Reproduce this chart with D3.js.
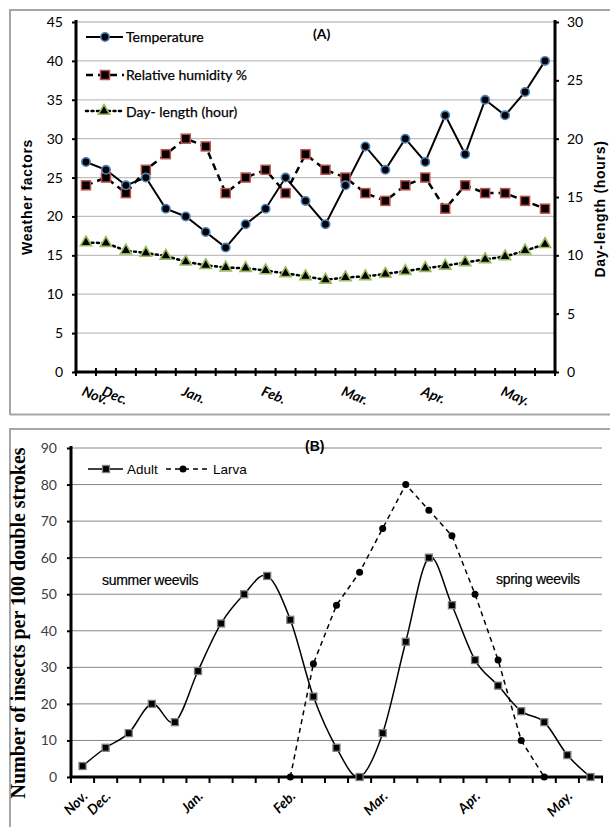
<!DOCTYPE html>
<html>
<head>
<meta charset="utf-8">
<script src="https://cdn.jsdelivr.net/npm/d3@7"></script>
<style>
  html, body { margin: 0; padding: 0; background: #fff; }
  svg { display: block; }
</style>
</head>
<body>
<svg id="chart" width="610" height="827"></svg>
<script>
// ---------- Data (A) ----------
const topMonths = ["Nov.","Dec.","","","","Jan.","","","","Feb.","","","","Mar.","","","","Apr.","","","","May.","",""];
const temperature = [27,26,24,25,21,20,18,16,19,21,25,22,19,24,29,26,30,27,33,28,35,33,36,40];
const humidity = [24,25,23,26,28,30,29,23,25,26,23,28,26,25,23,22,24,25,21,24,23,23,22,21];
const dayLength = [11.1,11.05,10.4,10.2,9.95,9.45,9.15,8.95,8.9,8.7,8.45,8.2,7.9,8.1,8.2,8.4,8.65,8.9,9.1,9.4,9.65,9.9,10.4,10.95];
const leftTicksA = [0,5,10,15,20,25,30,35,40,45];
const rightTicksA = [0,5,10,15,20,25,30];

// ---------- Data (B) ----------
const bottomMonths = ["Nov.","Dec.","","","","Jan.","","","","Feb.","","","","Mar.","","","","Apr.","","","","May.",""];
const adult = [3,8,12,20,15,29,42,50,55,43,22,8,0,12,37,60,47,32,25,18,15,6,0];
const larva = [null,null,null,null,null,null,null,null,null,0,31,47,56,68,80,73,66,50,32,10,0,null,null];
const ticksB = [0,10,20,30,40,50,60,70,80,90];

const svg = d3.select("#chart");

// ---------- Panel frames ----------
svg.append("path").attr("d","M10,415 V10 H610").attr("fill","none").attr("stroke","#a6a6a6").attr("stroke-width",2);
svg.append("line").attr("x1",10).attr("x2",610).attr("y1",414.5).attr("y2",414.5).attr("stroke","#a6a6a6").attr("stroke-width",2);
svg.append("path").attr("d","M10,827 V429 H610").attr("fill","none").attr("stroke","#a6a6a6").attr("stroke-width",2);

// =============== Chart A ===============
const A = {l:76, r:555, t:22, b:372};
const xA = d3.scaleBand().domain(d3.range(topMonths.length)).range([A.l, A.r]);
const cxA = i => xA(i) + xA.bandwidth()/2;
const yL = d3.scaleLinear().domain([0,45]).range([A.b, A.t]);
const yR = d3.scaleLinear().domain([0,30]).range([A.b, A.t]);

const gA = svg.append("g");
gA.selectAll(".gridA").data(leftTicksA.filter(d=>d>0)).enter().append("line")
  .attr("x1",A.l).attr("x2",A.r).attr("y1",d=>yL(d)).attr("y2",d=>yL(d))
  .attr("stroke","#bfbfbf").attr("stroke-width",1.3);

const leftAxisA = d3.axisLeft(yL).tickValues(leftTicksA).tickSize(4).tickPadding(9);
const lax = gA.append("g").attr("transform",`translate(${A.l},0)`).call(leftAxisA);
lax.select(".domain").attr("stroke","#000").attr("stroke-width",3).attr("d",`M0,${A.t-2}V${A.b}`);
lax.selectAll(".tick line").attr("stroke","#000").attr("stroke-width",2);
lax.selectAll(".tick text").attr("font-family","Lato, 'Open Sans', sans-serif").attr("font-size",14).attr("fill","#000");

const rightAxisA = d3.axisRight(yR).tickValues(rightTicksA).tickSize(4).tickPadding(8);
const rax = gA.append("g").attr("transform",`translate(${A.r},0)`).call(rightAxisA);
rax.select(".domain").attr("stroke","#000").attr("stroke-width",3).attr("d",`M0,${A.t-2}V${A.b}`);
rax.selectAll(".tick line").attr("stroke","#000").attr("stroke-width",2);
rax.selectAll(".tick text").attr("font-family","Lato, 'Open Sans', sans-serif").attr("font-size",14).attr("fill","#000");

gA.append("line").attr("x1",A.l-1.5).attr("x2",A.r+1.5).attr("y1",A.b).attr("y2",A.b).attr("stroke","#000").attr("stroke-width",3);
const tickPosA = d3.range(topMonths.length).map(i=>xA(i)).concat([A.r]);
gA.selectAll(".xtA").data(tickPosA).enter().append("line")
  .attr("x1",d=>d).attr("x2",d=>d).attr("y1",A.b-4).attr("y2",A.b+4)
  .attr("stroke","#000").attr("stroke-width",2);
gA.selectAll(".xlA").data(topMonths).enter().append("text")
  .attr("transform",(d,i)=>`translate(${cxA(i)-5},${A.b+23}) rotate(22)`)
  .attr("font-family","Lato, 'Open Sans', sans-serif").attr("font-size",14)
  .attr("font-weight","bold").attr("font-style","italic").attr("fill","#000")
  .text(d=>d);

const lineL = d3.line().x((d,i)=>cxA(i)).y(d=>yL(d));
const lineR = d3.line().x((d,i)=>cxA(i)).y(d=>yR(d));
gA.append("path").attr("d",lineR(dayLength)).attr("fill","none").attr("stroke","#000")
  .attr("stroke-width",2.5).attr("stroke-dasharray","2,3.5").attr("stroke-linecap","round");
gA.append("path").attr("d",lineL(humidity)).attr("fill","none").attr("stroke","#000")
  .attr("stroke-width",2.5).attr("stroke-dasharray","7,5");
gA.append("path").attr("d",lineL(temperature)).attr("fill","none").attr("stroke","#000")
  .attr("stroke-width",2);

const tri = d3.symbol().type(d3.symbolTriangle).size(55);
gA.selectAll(".dl").data(dayLength).enter().append("path")
  .attr("d",tri).attr("transform",(d,i)=>`translate(${cxA(i)},${yR(d)})`)
  .attr("fill","#000").attr("stroke","#9bbb59").attr("stroke-width",1.6);
gA.selectAll(".hu").data(humidity).enter().append("rect")
  .attr("x",(d,i)=>cxA(i)-4.5).attr("y",d=>yL(d)-4.5).attr("width",9).attr("height",9)
  .attr("fill","#000").attr("stroke","#c0504d").attr("stroke-width",1.5);
gA.selectAll(".te").data(temperature).enter().append("circle")
  .attr("cx",(d,i)=>cxA(i)).attr("cy",d=>yL(d)).attr("r",4.2)
  .attr("fill","#000").attr("stroke","#4f81bd").attr("stroke-width",1.6);

const legA = gA.append("g");
const legFont = "Lato, 'Open Sans', sans-serif";
legA.append("line").attr("x1",86).attr("x2",123).attr("y1",37).attr("y2",37).attr("stroke","#000").attr("stroke-width",2);
legA.append("circle").attr("cx",105).attr("cy",37).attr("r",4.2).attr("fill","#000").attr("stroke","#4f81bd").attr("stroke-width",1.6);
legA.append("text").attr("x",126).attr("y",42).attr("font-family",legFont).attr("font-size",14).attr("stroke","#000").attr("stroke-width",0.25).text("Temperature");
legA.append("line").attr("x1",86).attr("x2",124).attr("y1",75).attr("y2",75).attr("stroke","#000").attr("stroke-width",2.5).attr("stroke-dasharray","7,5");
legA.append("rect").attr("x",100.5).attr("y",70.5).attr("width",9).attr("height",9).attr("fill","#000").attr("stroke","#c0504d").attr("stroke-width",1.5);
legA.append("text").attr("x",126).attr("y",80).attr("font-family",legFont).attr("font-size",14).attr("stroke","#000").attr("stroke-width",0.25).text("Relative humidity %");
legA.append("line").attr("x1",86).attr("x2",124).attr("y1",111).attr("y2",111).attr("stroke","#000").attr("stroke-width",2.5).attr("stroke-dasharray","2,3.5").attr("stroke-linecap","round");
legA.append("path").attr("d",tri).attr("transform","translate(104,111)").attr("fill","#000").attr("stroke","#9bbb59").attr("stroke-width",1.6);
legA.append("text").attr("x",126).attr("y",117).attr("font-family",legFont).attr("font-size",14).attr("stroke","#000").attr("stroke-width",0.25).text("Day- length (hour)");

gA.append("text").attr("x",313).attr("y",39).attr("font-family",legFont).attr("font-size",14).attr("font-weight","bold").text("(A)");

gA.append("text").attr("transform",`translate(32,${(A.t+A.b)/2}) rotate(-90)`)
  .attr("text-anchor","middle").attr("font-family","'Liberation Sans', Arial, sans-serif")
  .attr("font-size",14).attr("font-weight","bold").attr("letter-spacing",0.7).text("Weather factors");
gA.append("text").attr("transform",`translate(605,209) rotate(-90)`)
  .attr("text-anchor","middle").attr("font-family","'Liberation Sans', Arial, sans-serif")
  .attr("font-size",14).attr("font-weight","bold").attr("letter-spacing",0.7).text("Day-length (hours)");

// =============== Chart B ===============
const B = {l:71, r:602, t:448, b:777};
const xB = d3.scaleBand().domain(d3.range(bottomMonths.length)).range([B.l, B.r]);
const cxB = i => xB(i) + xB.bandwidth()/2;
const yB = d3.scaleLinear().domain([0,90]).range([B.b, B.t]);
const gB = svg.append("g");

gB.selectAll(".gridB").data(ticksB.filter(d=>d>0)).enter().append("line")
  .attr("x1",B.l).attr("x2",B.r).attr("y1",d=>yB(d)).attr("y2",d=>yB(d))
  .attr("stroke","#868686").attr("stroke-width",1);

const leftAxisB = d3.axisLeft(yB).tickValues(ticksB).tickSize(4).tickPadding(10);
const lbx = gB.append("g").attr("transform",`translate(${B.l},0)`).call(leftAxisB);
lbx.select(".domain").attr("stroke","#000").attr("stroke-width",3).attr("d",`M0,${B.t-2}V${B.b}`);
lbx.selectAll(".tick line").attr("stroke","#000").attr("stroke-width",2);
lbx.selectAll(".tick text").attr("font-family","Lato, 'Open Sans', sans-serif").attr("font-size",14).attr("fill","#404040");

gB.append("line").attr("x1",B.l-1.5).attr("x2",B.r+1).attr("y1",B.b).attr("y2",B.b).attr("stroke","#000").attr("stroke-width",3);
const tickPosB = d3.range(bottomMonths.length).map(i=>xB(i)).concat([B.r]);
gB.selectAll(".xtB").data(tickPosB).enter().append("line")
  .attr("x1",d=>d).attr("x2",d=>d).attr("y1",B.b).attr("y2",B.b+6)
  .attr("stroke","#000").attr("stroke-width",2);
gB.selectAll(".xlB").data(bottomMonths).enter().append("text")
  .attr("transform",(d,i)=>`translate(${cxB(i)+6},${B.b+20}) rotate(-45)`)
  .attr("text-anchor","end")
  .attr("font-family","Lato, 'Open Sans', sans-serif").attr("font-size",14)
  .attr("font-weight","bold").attr("font-style","italic").attr("fill","#000")
  .text(d=>d);

const lineAdult = d3.line().x((d,i)=>cxB(i)).y(d=>yB(d)).curve(d3.curveCatmullRom.alpha(0));
const lineLarva = d3.line().defined(d=>d!==null).x((d,i)=>cxB(i)).y(d=>yB(d));
gB.append("path").attr("d",lineLarva(larva)).attr("fill","none").attr("stroke","#000")
  .attr("stroke-width",1.5).attr("stroke-dasharray","5,4");
gB.append("path").attr("d",lineAdult(adult)).attr("fill","none").attr("stroke","#000")
  .attr("stroke-width",1.5);

gB.selectAll(".ad").data(adult).enter().append("rect")
  .attr("x",(d,i)=>cxB(i)-3.5).attr("y",d=>yB(d)-3.5).attr("width",7).attr("height",7)
  .attr("fill","#000").attr("stroke","#7f7f7f").attr("stroke-width",1.3);
gB.selectAll(".la").data(larva.map((v,i)=>({v,i})).filter(d=>d.v!==null)).enter().append("circle")
  .attr("cx",d=>cxB(d.i)).attr("cy",d=>yB(d.v)).attr("r",3.5).attr("fill","#000");

const fB = "'Liberation Sans', Arial, sans-serif";
gB.append("line").attr("x1",88).attr("x2",123).attr("y1",469).attr("y2",469).attr("stroke","#000").attr("stroke-width",1.5);
gB.append("rect").attr("x",102.5).attr("y",465.5).attr("width",7).attr("height",7).attr("fill","#000").attr("stroke","#7f7f7f").attr("stroke-width",1.3);
gB.append("text").attr("x",127).attr("y",474).attr("font-family",fB).attr("font-size",13.5).text("Adult");
gB.append("line").attr("x1",166).attr("x2",210).attr("y1",469).attr("y2",469).attr("stroke","#000").attr("stroke-width",1.5).attr("stroke-dasharray","5,4");
gB.append("circle").attr("cx",183).attr("cy",469).attr("r",3.5).attr("fill","#000");
gB.append("text").attr("x",213).attr("y",474).attr("font-family",fB).attr("font-size",13.5).text("Larva");

gB.append("text").attr("x",102).attr("y",585).attr("font-family",fB).attr("font-size",14).attr("letter-spacing",-0.3).attr("stroke","#000").attr("stroke-width",0.2).text("summer weevils");
gB.append("text").attr("x",496).attr("y",584).attr("font-family",fB).attr("font-size",14).attr("letter-spacing",-0.3).attr("stroke","#000").attr("stroke-width",0.2).text("spring weevils");
gB.append("text").attr("x",305).attr("y",451).attr("font-family",fB).attr("font-size",14).attr("font-weight","bold").text("(B)");

gB.append("text").attr("transform",`translate(25,623) rotate(-90)`)
  .attr("text-anchor","middle").attr("font-family","'Liberation Serif', 'Times New Roman', serif")
  .attr("font-size",20).attr("font-weight","bold").text("Number of insects per 100 double strokes");
</script>
</body>
</html>
